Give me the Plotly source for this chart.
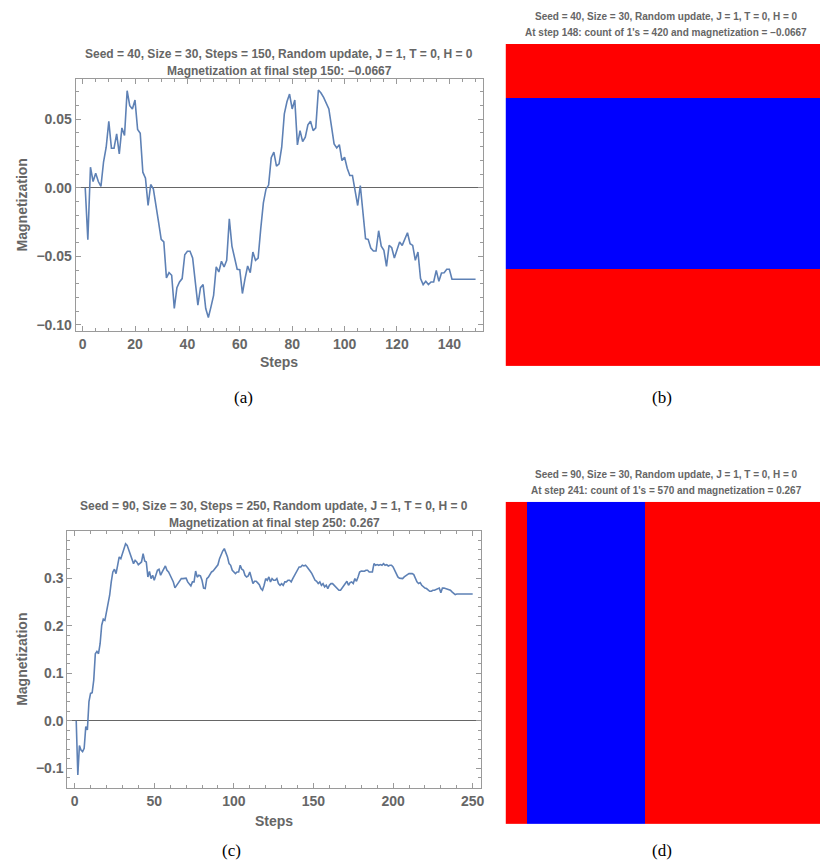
import plotly.graph_objects as go

W, H = 824, 868

# ---------------- data ----------------
mag_a = [
    0, -0.0378, 0.0150, 0.0046, 0.0107, 0.0046, 0.001, 0.019, 0.0296, 0.0485,
    0.0289, 0.0289, 0.0393, 0.0247, 0.0437, 0.0381, 0.0708, 0.0599, 0.0575, 0.064,
    0.0425, 0.0398, 0.0114, 0.007, -0.0129, 0.0024, -0.0007, -0.0116, -0.025, -0.0376,
    -0.0395, -0.0657, -0.0619, -0.0638, -0.088, -0.0728, -0.0687, -0.0662, -0.0488, -0.0463,
    -0.0463, -0.0512, -0.0699, -0.0856, -0.0728, -0.0706, -0.088, -0.0946, -0.0868, -0.0784,
    -0.0577, -0.0614, -0.0536, -0.0577, -0.0529, -0.0226, -0.0425, -0.0512, -0.0594, -0.0597,
    -0.0771, -0.0662, -0.057, -0.0619, -0.0468, -0.0529, -0.0512, -0.0298, -0.011, -0.001,
    0.002, 0.022, 0.026, 0.0158, 0.0175, 0.0296, 0.0539, 0.0628, 0.0684, 0.0575,
    0.064, 0.0313, 0.0417, 0.0337, 0.0369, 0.0459, 0.0485, 0.0417, 0.0437, 0.0713,
    0.0691, 0.066, 0.0623, 0.0575, 0.0449, 0.032, 0.0291, 0.0315, 0.0199, 0.0223,
    0.0143, 0.009, 0.009, -0.0007, -0.0129, 0.0017, -0.0182, -0.0371, -0.0376, -0.0439,
    -0.0461, -0.0461, -0.0313, -0.0425, -0.0456, -0.0573, -0.042, -0.0437, -0.0512, -0.0449,
    -0.0395, -0.042, -0.0371, -0.0328, -0.0408, -0.042, -0.0529, -0.0468, -0.0662, -0.0706,
    -0.0682, -0.0706, -0.0687, -0.0687, -0.0602, -0.0682, -0.0621, -0.0619, -0.0594, -0.0594,
    -0.0667, -0.0667, -0.0667, -0.0667, -0.0667, -0.0667, -0.0667, -0.0667, -0.0667, -0.0667,
]
steps_a = list(range(1, len(mag_a) + 1))

mag_c = [
    0, -0.114, -0.0525, -0.0616, -0.065, -0.058, -0.0126, -0.0196, 0.04, 0.0574,
    0.0588, 0.0854, 0.141, 0.146, 0.141, 0.162, 0.201, 0.2136, 0.211, 0.229,
    0.2465, 0.264, 0.292, 0.313, 0.3186, 0.3095, 0.327, 0.3445, 0.341, 0.3515,
    0.3655, 0.3725, 0.369, 0.3585, 0.3494, 0.3375, 0.3305, 0.3375, 0.334, 0.328,
    0.331, 0.334, 0.3515, 0.336, 0.334, 0.3025, 0.314, 0.299, 0.306, 0.2955,
    0.306, 0.3165, 0.3186, 0.306, 0.313, 0.32, 0.3256, 0.3165, 0.313, 0.306,
    0.299, 0.292, 0.2794, 0.285, 0.2906, 0.2955, 0.299, 0.299, 0.299, 0.3,
    0.292, 0.2885, 0.2836, 0.292, 0.292, 0.315, 0.302, 0.306, 0.3046, 0.2955,
    0.279, 0.278, 0.299, 0.302, 0.308, 0.313, 0.315, 0.32, 0.3235, 0.328,
    0.341, 0.3515, 0.357, 0.362, 0.355, 0.3445, 0.3305, 0.327, 0.3165, 0.313,
    0.3095, 0.313, 0.313, 0.327, 0.3186, 0.3165, 0.306, 0.3025, 0.3046, 0.313,
    0.299, 0.2885, 0.2934, 0.2934, 0.29, 0.2864, 0.278, 0.2745, 0.285, 0.299,
    0.2955, 0.3025, 0.292, 0.299, 0.2955, 0.2955, 0.299, 0.2885, 0.285, 0.2885,
    0.285, 0.292, 0.292, 0.2955, 0.2955, 0.292, 0.299, 0.306, 0.313, 0.32,
    0.3235, 0.3235, 0.327, 0.3256, 0.327, 0.3235, 0.32, 0.3144, 0.3095, 0.3025,
    0.2955, 0.2934, 0.2885, 0.292, 0.285, 0.2885, 0.2814, 0.285, 0.278, 0.285,
    0.2885, 0.2885, 0.285, 0.2814, 0.278, 0.2745, 0.2745, 0.279, 0.285, 0.2885,
    0.2934, 0.285, 0.2906, 0.292, 0.2885, 0.299, 0.2934, 0.3025, 0.313, 0.315,
    0.315, 0.3144, 0.3165, 0.3165, 0.313, 0.313, 0.313, 0.3305, 0.327, 0.3284,
    0.327, 0.3284, 0.327, 0.3305, 0.327, 0.3284, 0.3256, 0.327, 0.327, 0.3235,
    0.3165, 0.3095, 0.3025, 0.3, 0.299, 0.299, 0.3025, 0.306, 0.3074, 0.3095,
    0.3095, 0.3095, 0.3074, 0.299, 0.292, 0.2885, 0.2906, 0.285, 0.2814, 0.279,
    0.278, 0.2745, 0.2724, 0.2724, 0.2745, 0.2745, 0.2766, 0.278, 0.279, 0.2695,
    0.279, 0.279, 0.278, 0.278, 0.2766, 0.2745, 0.271, 0.2675, 0.2653, 0.2667,
    0.2667, 0.2667, 0.2667, 0.2667, 0.2667, 0.2667, 0.2667, 0.2667, 0.2667, 0.2667,
]
steps_c = list(range(1, len(mag_c) + 1))

# lattice snapshots (30 x 30): +1 = red, -1 = blue
b_row_spin = [1]*5 + [-1]*16 + [1]*9          # each row uniform
d_col_spin = [1]*2 + [-1]*11 + [1]*17         # each column uniform
z_b = [[s]*30 for s in b_row_spin]
z_d = [list(d_col_spin) for _ in range(30)]

title_a = ["Seed = 40, Size = 30, Steps = 150, Random update, J = 1, T = 0, H = 0",
           "Magnetization at final step 150: \u22120.0667"]
title_b = ["Seed = 40, Size = 30, Random update, J = 1, T = 0, H = 0",
           "At step 148: count of 1's = 420 and magnetization = \u22120.0667"]
title_c = ["Seed = 90, Size = 30, Steps = 250, Random update, J = 1, T = 0, H = 0",
           "Magnetization at final step 250: 0.267"]
title_d = ["Seed = 90, Size = 30, Random update, J = 1, T = 0, H = 0",
           "At step 241: count of 1's = 570 and magnetization = 0.267"]
panel_labels = ["(a)", "(b)", "(c)", "(d)"]

# ---------------- helpers ----------------
def px(x):
    return x / W

def py(y):
    return 1 - y / H

SANS = "Liberation Sans"
GRAY = "#666666"
FRAME = "#9a9a9a"
LINE = "#5E81B5"

fig = go.Figure()
fig.add_trace(go.Scatter(x=steps_a, y=mag_a, mode="lines", xaxis="x", yaxis="y",
                         line=dict(color=LINE, width=1.6), showlegend=False))
fig.add_trace(go.Heatmap(z=z_b, xaxis="x2", yaxis="y2", zmin=-1, zmax=1,
                         colorscale=[[0, "#0000ff"], [1, "#ff0000"]], showscale=False))
fig.add_trace(go.Scatter(x=steps_c, y=mag_c, mode="lines", xaxis="x3", yaxis="y3",
                         line=dict(color=LINE, width=1.6), showlegend=False))
fig.add_trace(go.Heatmap(z=z_d, xaxis="x4", yaxis="y4", zmin=-1, zmax=1,
                         colorscale=[[0, "#0000ff"], [1, "#ff0000"]], showscale=False))

tickfont = dict(family=SANS, size=14, color=GRAY, weight="bold")

def frame_axis(domain, rng, dtick, minor_dtick, anchor, fmt=None, zeroline=False):
    d = dict(domain=domain, range=rng, anchor=anchor, tick0=0, dtick=dtick,
             ticks="inside", ticklen=5, tickwidth=1, tickcolor=FRAME,
             minor=dict(dtick=minor_dtick, tick0=0, ticks="inside", ticklen=3,
                        tickwidth=1, tickcolor=FRAME),
             showline=True, linecolor=FRAME, linewidth=1, mirror="ticks",
             showgrid=False, zeroline=zeroline, tickfont=tickfont)
    if zeroline:
        d.update(zerolinecolor="#666666", zerolinewidth=1)
    if fmt:
        d["tickformat"] = fmt
    return d

layout = dict(
    width=W, height=H, margin=dict(l=0, r=0, t=0, b=0),
    paper_bgcolor="white", plot_bgcolor="white",
    xaxis=frame_axis([px(76), px(485)], [-2.66, 152.7], 20, 5, "y"),
    yaxis=frame_axis([py(332), py(79)], [-0.1046, 0.0795], 0.05, 0.01, "x", ".2f", True),
    xaxis3=frame_axis([px(67.7), px(483)], [-4.56, 255], 50, 10, "y3"),
    yaxis3=frame_axis([py(790), py(532.3)], [-0.142, 0.399], 0.1, 0.02, "x3", ".1f", True),
    xaxis2=dict(domain=[px(508), 1], range=[-0.5, 28.84], visible=False, anchor="y2"),
    yaxis2=dict(domain=[py(367), py(44)], range=[29.5, -0.5], visible=False, anchor="x2"),
    xaxis4=dict(domain=[px(508), 1], range=[-0.5, 28.84], visible=False, anchor="y4"),
    yaxis4=dict(domain=[py(826), py(503)], range=[29.5, -0.5], visible=False, anchor="x4"),
)
fig.update_layout(**layout)

ann = []
def text(x, y, s, size, family=SANS, color=GRAY, angle=0, bold=True):
    ann.append(dict(x=px(x), y=py(y), xref="paper", yref="paper", showarrow=False,
                    text=("<b>%s</b>" % s) if bold else s, textangle=angle,
                    font=dict(family=family, size=size, color=color),
                    xanchor="center", yanchor="middle"))

text(280.5, 54.3, title_a[0], 12)
text(280.5, 71, title_a[1], 12)
text(275.4, 507.3, title_c[0], 12)
text(275.4, 524.3, title_c[1], 12)
text(669.5, 17, title_b[0], 10)
text(669.5, 33, title_b[1], 10)
text(669.5, 476, title_d[0], 10)
text(669.5, 492, title_d[1], 10)
text(22.5, 205.5, "Magnetization", 14, angle=-90)
text(22.5, 661, "Magnetization", 14, angle=-90)
text(280.5, 363, "Steps", 14)
text(275.4, 822.7, "Steps", 14)
serif = "Liberation Serif"
text(245, 398, panel_labels[0], 17, family=serif, color="black", bold=False)
text(665, 398, panel_labels[1], 17, family=serif, color="black", bold=False)
text(233, 852, panel_labels[2], 17, family=serif, color="black", bold=False)
text(665, 852, panel_labels[3], 17, family=serif, color="black", bold=False)
fig.update_layout(annotations=ann)

fig.write_html("out.html")
